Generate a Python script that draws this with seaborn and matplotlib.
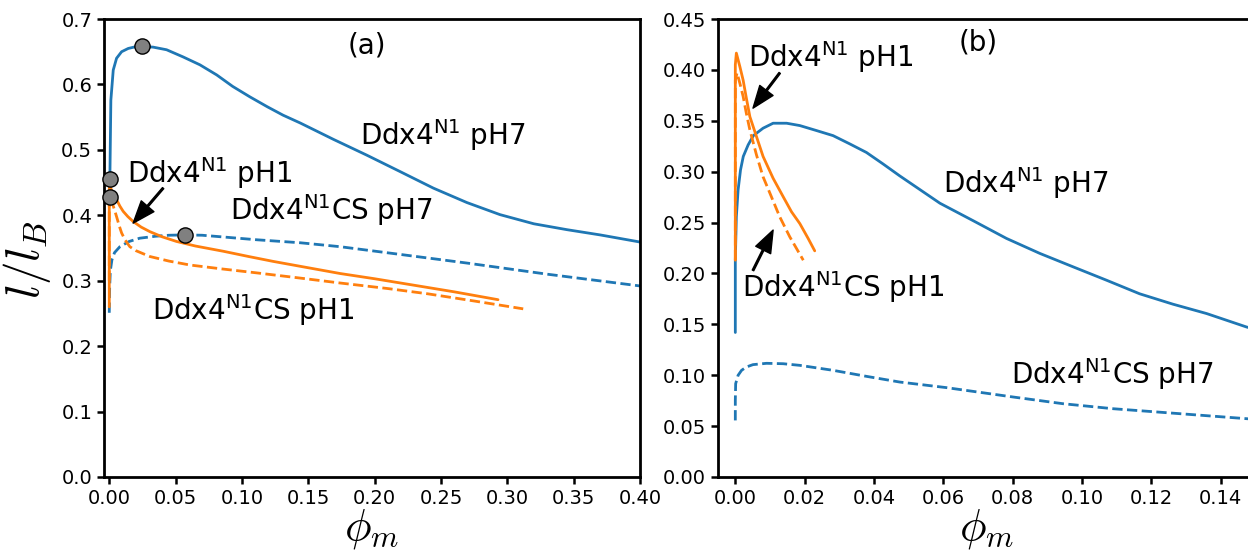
import matplotlib
matplotlib.use("Agg")
import matplotlib.pyplot as plt
import seaborn as sns
import pandas as pd

# ---- panel (a): full composition range ----
a_pH7_x = [0.0, 0.00045, 0.0012, 0.003, 0.0055, 0.0093, 0.0143, 0.0206, 0.0256, 0.0331,
           0.0432, 0.0557, 0.0683, 0.081, 0.093, 0.106, 0.119, 0.131, 0.144, 0.169,
           0.194, 0.219, 0.2443, 0.2695, 0.2945, 0.320, 0.345, 0.370, 0.399, 0.40]
a_pH7_y = [0.45, 0.454, 0.576, 0.622, 0.640, 0.650, 0.655, 0.658, 0.658, 0.657,
           0.653, 0.642, 0.630, 0.6145, 0.597, 0.581, 0.566, 0.553, 0.541, 0.516,
           0.492, 0.467, 0.4415, 0.4195, 0.401, 0.387, 0.378, 0.370, 0.3595, 0.359]

a_CS7_x = [0.0, 0.0003, 0.0008, 0.002, 0.004, 0.008, 0.015, 0.023, 0.035, 0.045,
           0.057, 0.07, 0.085, 0.111, 0.144, 0.174, 0.22, 0.2695, 0.33, 0.40]
a_CS7_y = [0.251, 0.29, 0.315, 0.332, 0.343, 0.352, 0.360, 0.365, 0.368, 0.3695,
           0.370, 0.3695, 0.367, 0.3626, 0.358, 0.352, 0.340, 0.327, 0.310, 0.292]

a_pH1_x = [0.0, 0.0, 0.0005, 0.002, 0.004, 0.0055, 0.008, 0.0105, 0.014, 0.018,
           0.024, 0.0306, 0.04, 0.0507, 0.065, 0.086, 0.105, 0.1236, 0.144, 0.174,
           0.20, 0.23, 0.26, 0.293]
a_pH1_y = [0.26, 0.44, 0.444, 0.437, 0.429, 0.424, 0.414, 0.406, 0.398, 0.3905,
           0.382, 0.375, 0.367, 0.360, 0.353, 0.345, 0.337, 0.3295, 0.322, 0.311,
           0.303, 0.293, 0.283, 0.271]

a_CS1_x = [0.0, 0.0, 0.0003, 0.002, 0.004, 0.0055, 0.0075, 0.0093, 0.012, 0.0155,
           0.02, 0.0306, 0.045, 0.0608, 0.085, 0.111, 0.144, 0.174, 0.21, 0.24,
           0.275, 0.312]
a_CS1_y = [0.30, 0.428, 0.430, 0.420, 0.408, 0.398, 0.384, 0.373, 0.362, 0.352,
           0.346, 0.337, 0.330, 0.324, 0.318, 0.312, 0.304, 0.2965, 0.288, 0.280,
           0.269, 0.257]

# critical points marked on panel (a)
crit_x = [0.025, 0.0005, 0.0003, 0.057]
crit_y = [0.658, 0.455, 0.428, 0.370]

# ---- panel (b): dilute region ----
b_pH7_x = [0.0, 0.0, 0.0003, 0.0008, 0.0015, 0.0023, 0.0037, 0.0052, 0.008, 0.0109,
           0.0148, 0.0186, 0.0234, 0.0282, 0.033, 0.0378, 0.0426, 0.0474, 0.059, 0.0686,
           0.0782, 0.0878, 0.0974, 0.107, 0.1166, 0.1262, 0.1359, 0.1474, 0.15]
b_pH7_y = [0.142, 0.213, 0.2557, 0.282, 0.3017, 0.315, 0.3263, 0.3354, 0.3427, 0.3476,
           0.3476, 0.3453, 0.3404, 0.3354, 0.3273, 0.3189, 0.3076, 0.2959, 0.269, 0.2518,
           0.2344, 0.2197, 0.2065, 0.1934, 0.180, 0.1698, 0.1606, 0.1474, 0.145]

b_CS7_x = [0.0, 0.0, 0.0001, 0.0008, 0.0018, 0.0032, 0.0051, 0.009, 0.0138, 0.0186,
           0.0282, 0.0378, 0.0474, 0.0609, 0.0801, 0.0945, 0.1089, 0.1282, 0.1474, 0.15]
b_CS7_y = [0.0556, 0.0753, 0.0917, 0.0999, 0.1048, 0.1081, 0.1104, 0.1117, 0.1113, 0.1097,
           0.1048, 0.0989, 0.0933, 0.0878, 0.0786, 0.0720, 0.0671, 0.0622, 0.0573, 0.0567]

b_pH1_x = [0.0, 0.0, 0.0003, 0.0013, 0.00225, 0.0032, 0.0042, 0.0061, 0.008, 0.0109,
           0.0138, 0.0162, 0.0186, 0.021, 0.0229]
b_pH1_y = [0.213, 0.405, 0.4165, 0.4034, 0.390, 0.372, 0.354, 0.3345, 0.315, 0.2935,
           0.2754, 0.2606, 0.249, 0.2344, 0.2222]

b_CS1_x = [0.0, 0.0, 0.0005, 0.0013, 0.00225, 0.0032, 0.0042, 0.0061, 0.008, 0.0104,
           0.0128, 0.0157, 0.0196]
b_CS1_y = [0.213, 0.39, 0.397, 0.387, 0.374, 0.357, 0.341, 0.3165, 0.295, 0.2754,
           0.2557, 0.236, 0.213]

a_xticks = [0.00, 0.05, 0.10, 0.15, 0.20, 0.25, 0.30, 0.35, 0.40]
a_yticks = [0.0, 0.1, 0.2, 0.3, 0.4, 0.5, 0.6, 0.7]
b_xticks = [0.00, 0.02, 0.04, 0.06, 0.08, 0.10, 0.12, 0.14]
b_yticks = [0.00, 0.05, 0.10, 0.15, 0.20, 0.25, 0.30, 0.35, 0.40, 0.45]

BLUE = "#1f77b4"
ORANGE = "#ff7f0e"

sns.set_theme(style="ticks")
plt.rcParams["font.family"] = ["DejaVu Sans"]
plt.rcParams["mathtext.fontset"] = "dejavusans"
plt.rcParams["axes.linewidth"] = 2.0
plt.rcParams["axes.edgecolor"] = "black"
plt.rcParams["text.color"] = "black"
plt.rcParams["axes.labelcolor"] = "black"
plt.rcParams["xtick.color"] = "black"
plt.rcParams["ytick.color"] = "black"

fig = plt.figure(figsize=(12.48, 5.59), dpi=100)
ax_a = fig.add_axes([0.0833, 0.1467, 0.4295, 0.8193])
ax_b = fig.add_axes([0.5753, 0.1467, 0.4307, 0.8193])


def curve(ax, xs, ys, color, ls):
    df = pd.DataFrame({"x": xs, "y": ys})
    sns.lineplot(data=df, x="x", y="y", ax=ax, color=color, linestyle=ls,
                 linewidth=2.0, sort=False, estimator=None)


curve(ax_a, a_pH7_x, a_pH7_y, BLUE, "-")
curve(ax_a, a_CS7_x, a_CS7_y, BLUE, "--")
curve(ax_a, a_pH1_x, a_pH1_y, ORANGE, "-")
curve(ax_a, a_CS1_x, a_CS1_y, ORANGE, "--")
sns.scatterplot(x=crit_x, y=crit_y, ax=ax_a, s=120, color="#808080",
                edgecolor="black", linewidth=1.0, zorder=5, clip_on=False)

curve(ax_b, b_pH7_x, b_pH7_y, BLUE, "-")
curve(ax_b, b_CS7_x, b_CS7_y, BLUE, "--")
curve(ax_b, b_pH1_x, b_pH1_y, ORANGE, "-")
curve(ax_b, b_CS1_x, b_CS1_y, ORANGE, "--")

ax_a.set_xlim(-0.004, 0.40)
ax_a.set_ylim(0, 0.7)
ax_a.set_xticks(a_xticks)
ax_a.set_yticks(a_yticks)
ax_a.set_xticklabels([f"{v:.2f}" for v in a_xticks])
ax_a.set_yticklabels([f"{v:.1f}" for v in a_yticks])

ax_b.set_xlim(-0.005, 0.15)
ax_b.set_ylim(0, 0.45)
ax_b.set_xticks(b_xticks)
ax_b.set_yticks(b_yticks)
ax_b.set_xticklabels([f"{v:.2f}" for v in b_xticks])
ax_b.set_yticklabels([f"{v:.2f}" for v in b_yticks])

for ax in (ax_a, ax_b):
    ax.tick_params(axis="both", direction="out", length=5, width=1.8,
                   labelsize=14, colors="black")
    for s in ax.spines.values():
        s.set_visible(True)
        s.set_linewidth(2.0)
        s.set_color("black")
    ax.set_xlabel(r"$\phi_m$", fontsize=32, math_fontfamily="cm")
    ax.xaxis.set_label_coords(0.5, -0.066)
    ax.xaxis.label.set_va("top")

ax_a.set_ylabel(r"$l/l_B$", fontsize=34, math_fontfamily="cm")
ax_a.yaxis.set_label_coords(-0.095, 0.475)
ax_b.set_ylabel("")

TS = 20
arrow = dict(facecolor="black", edgecolor="black", width=1.2,
             headwidth=12, headlength=16, shrink=0.0)

# panel (a) labels
ax_a.text(0.194, 0.66, "(a)", fontsize=TS, ha="center", va="center")
ax_a.text(0.189, 0.5076, r"Ddx4$^{\mathrm{N1}}$ pH7", fontsize=TS, ha="left", va="baseline")
ax_a.text(0.013, 0.449, r"Ddx4$^{\mathrm{N1}}$ pH1", fontsize=TS, ha="left", va="baseline")
ax_a.text(0.091, 0.393, r"Ddx4$^{\mathrm{N1}}$CS pH7", fontsize=TS, ha="left", va="baseline")
ax_a.text(0.0319, 0.2405, r"Ddx4$^{\mathrm{N1}}$CS pH1", fontsize=TS, ha="left", va="baseline")
ax_a.annotate("", xy=(0.018, 0.388), xytext=(0.0406, 0.4415), arrowprops=arrow)

# panel (b) labels
ax_b.text(0.070, 0.4267, "(b)", fontsize=TS, ha="center", va="center")
ax_b.text(0.0037, 0.4033, r"Ddx4$^{\mathrm{N1}}$ pH1", fontsize=TS, ha="left", va="baseline")
ax_b.text(0.0019, 0.1767, r"Ddx4$^{\mathrm{N1}}$CS pH1", fontsize=TS, ha="left", va="baseline")
ax_b.text(0.0599, 0.2787, r"Ddx4$^{\mathrm{N1}}$ pH7", fontsize=TS, ha="left", va="baseline")
ax_b.text(0.0796, 0.0917, r"Ddx4$^{\mathrm{N1}}$CS pH7", fontsize=TS, ha="left", va="baseline")
ax_b.annotate("", xy=(0.0051, 0.3624), xytext=(0.0128, 0.397), arrowprops=arrow)
ax_b.annotate("", xy=(0.0109, 0.2426), xytext=(0.0051, 0.203), arrowprops=arrow)

fig.savefig("out.png", dpi=100)
